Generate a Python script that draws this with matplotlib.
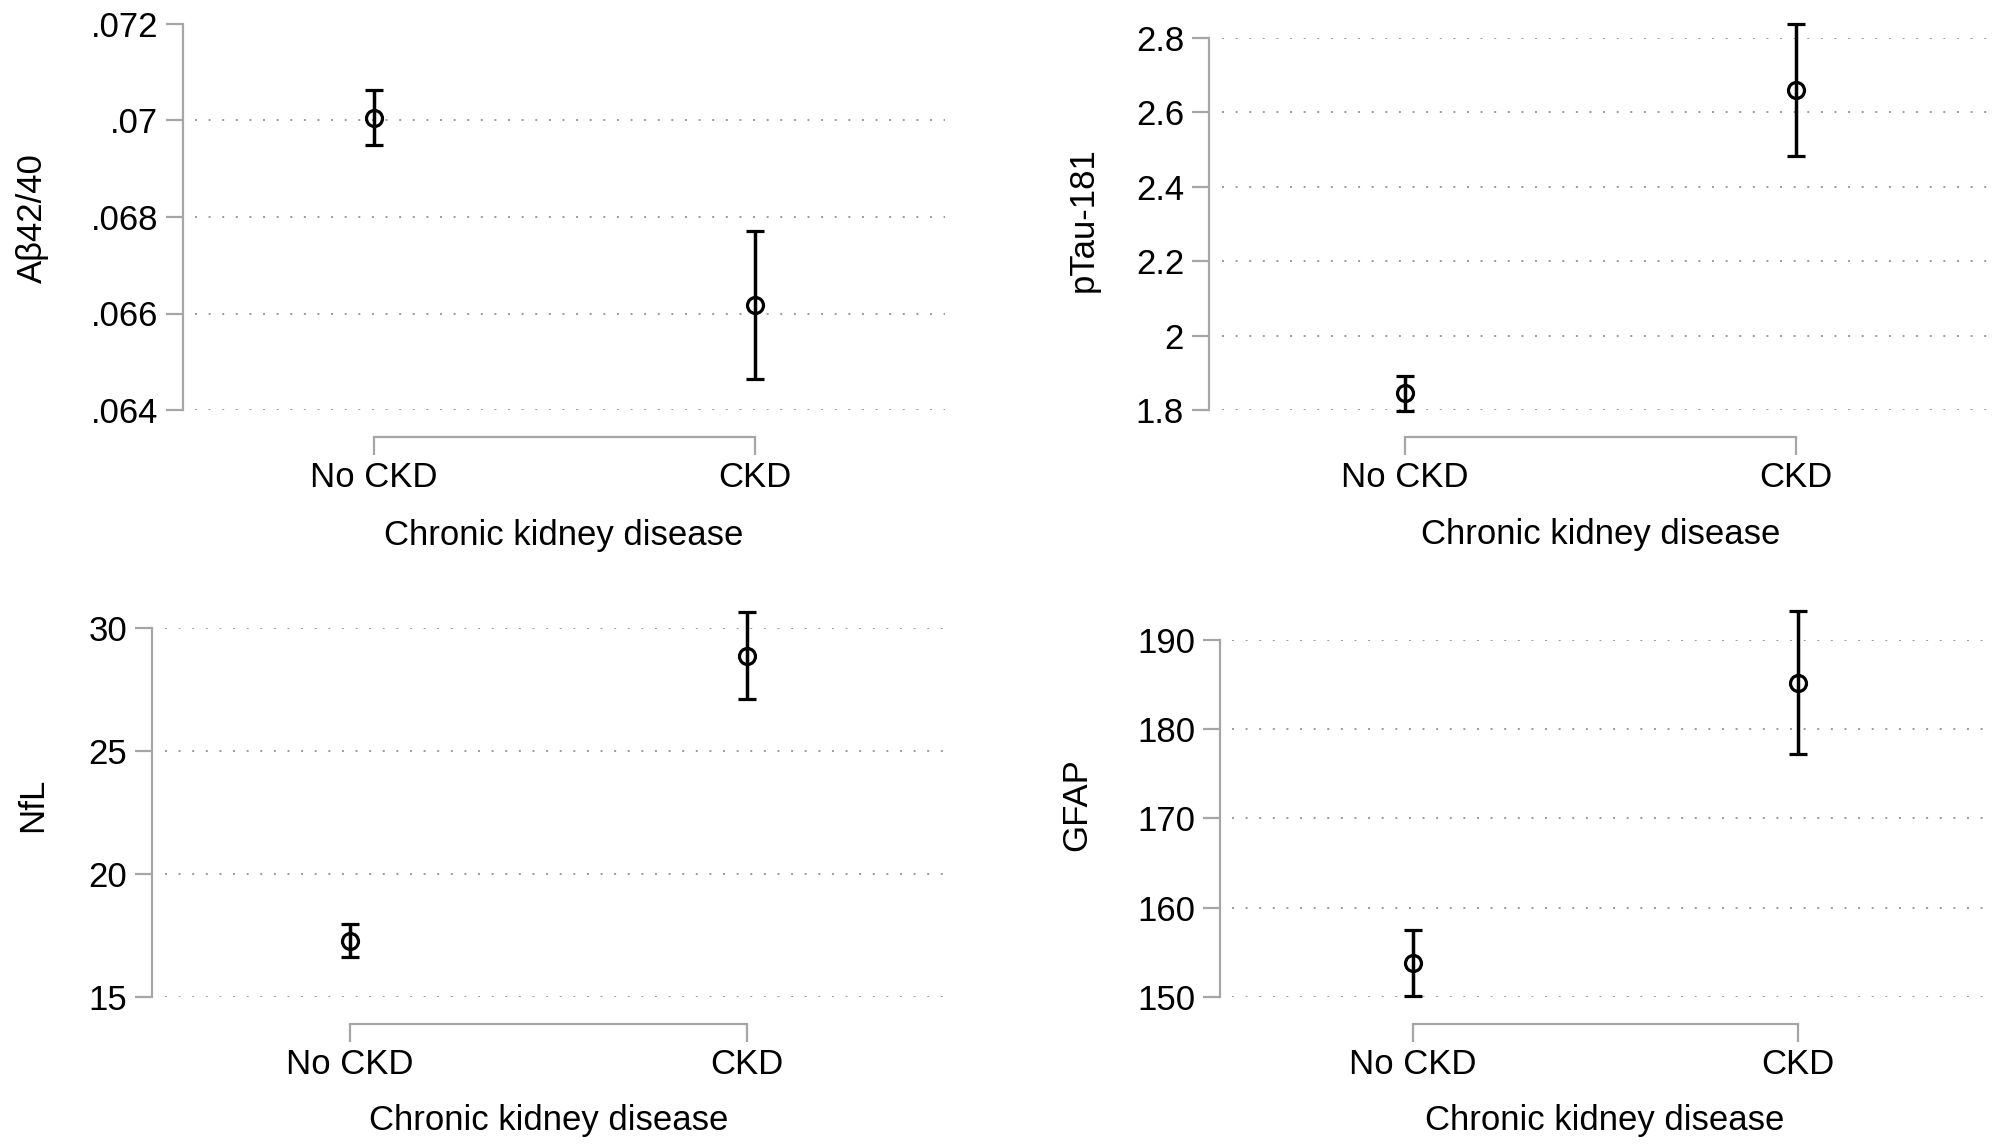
import matplotlib
matplotlib.use("Agg")
import matplotlib.pyplot as plt

plt.rcParams['font.family'] = ['Liberation Sans', 'DejaVu Sans']

groups = ['No CKD', 'CKD']
xlabel = 'Chronic kidney disease'

abeta_mean = [0.07006, 0.06618]
abeta_lo = [0.06950, 0.06464]
abeta_hi = [0.07064, 0.06770]
abeta_ticks = [0.064, 0.066, 0.068, 0.070, 0.072]
abeta_ticklabels = ['.064', '.066', '.068', '.07', '.072']
abeta_grid = [0.064, 0.066, 0.068, 0.070]

ptau_mean = [1.847, 2.660]
ptau_lo = [1.798, 2.483]
ptau_hi = [1.892, 2.837]
ptau_ticks = [1.8, 2.0, 2.2, 2.4, 2.6, 2.8]
ptau_ticklabels = ['1.8', '2', '2.2', '2.4', '2.6', '2.8']
ptau_grid = [1.8, 2.0, 2.2, 2.4, 2.6, 2.8]

nfl_mean = [17.28, 28.88]
nfl_lo = [16.64, 27.13]
nfl_hi = [17.95, 30.67]
nfl_ticks = [15, 20, 25, 30]
nfl_ticklabels = ['15', '20', '25', '30']
nfl_grid = [15, 20, 25, 30]

gfap_mean = [153.8, 185.2]
gfap_lo = [150.1, 177.2]
gfap_hi = [157.5, 193.2]
gfap_ticks = [150, 160, 170, 180, 190]
gfap_ticklabels = ['150', '160', '170', '180', '190']
gfap_grid = [150, 160, 170, 180, 190]

W, H = 2008, 1145
fig = plt.figure(figsize=(W / 100, H / 100), dpi=100)
fig.patch.set_facecolor('white')

GRAY = '#a6a6a6'
FS = 25

# (left, right, top, bottom) in pixels, ylabel (x,y) frac, xlabel y frac
panels = [
    dict(box=(183, 945, 24, 410), name='Aβ42/40', mean=abeta_mean, lo=abeta_lo, hi=abeta_hi,
         ticks=abeta_ticks, tl=abeta_ticklabels, grid=abeta_grid, yl=(-0.198, 0.497), xl=-0.324),
    dict(box=(1209, 1992, 38, 410), name='pTau-181', mean=ptau_mean, lo=ptau_lo, hi=ptau_hi,
         ticks=ptau_ticks, tl=ptau_ticklabels, grid=ptau_grid, yl=(-0.161, 0.513), xl=-0.336),
    dict(box=(152, 945, 628, 997), name='NfL', mean=nfl_mean, lo=nfl_lo, hi=nfl_hi,
         ticks=nfl_ticks, tl=nfl_ticklabels, grid=nfl_grid, yl=(-0.151, 0.52), xl=-0.336),
    dict(box=(1220, 1990, 640, 997), name='GFAP', mean=gfap_mean, lo=gfap_lo, hi=gfap_hi,
         ticks=gfap_ticks, tl=gfap_ticklabels, grid=gfap_grid, yl=(-0.186, 0.538), xl=-0.347),
]

for p in panels:
    l, r, t, b = p['box']
    ax = fig.add_axes([l / W, 1 - b / H, (r - l) / W, (b - t) / H])
    ax.set_facecolor('none')
    ax.set_xlim(-0.5, 1.5)
    ax.set_ylim(p['ticks'][0], p['ticks'][-1])

    for g in p['grid']:
        ax.axhline(g, xmin=0.016, xmax=1, color='#9a9a9a', lw=1.4,
                   linestyle=(0, (1, 6)), zorder=1)

    x = list(range(len(groups)))
    yerr = [[m - lo for m, lo in zip(p['mean'], p['lo'])],
            [hi - m for m, hi in zip(p['mean'], p['hi'])]]
    cont = ax.errorbar(x, p['mean'], yerr=yerr, fmt='o', mfc='none', mec='black',
                       ms=11.5, mew=2.3, ecolor='black', elinewidth=2.5,
                       capsize=6.5, capthick=2.5, zorder=3)
    for art in cont.get_children():
        art.set_clip_on(False)

    for s in ['top', 'right']:
        ax.spines[s].set_visible(False)
    ax.spines['left'].set_color(GRAY)
    ax.spines['left'].set_linewidth(1.6)
    ax.spines['bottom'].set_color(GRAY)
    ax.spines['bottom'].set_linewidth(1.6)
    ax.spines['bottom'].set_position(('outward', 19.5))
    ax.spines['bottom'].set_bounds(0, 1)

    ax.set_yticks(p['ticks'])
    ax.set_yticklabels(p['tl'])
    ax.set_xticks(x)
    ax.set_xticklabels(groups)
    ax.tick_params(axis='y', length=12, width=1.6, color=GRAY, pad=6,
                   labelsize=FS, labelcolor='black')
    ax.tick_params(axis='x', length=13, width=1.6, color=GRAY, pad=4,
                   labelsize=FS, labelcolor='black')

    ax.set_ylabel(p['name'], fontsize=FS, va='center')
    ax.yaxis.set_label_coords(p['yl'][0], p['yl'][1])
    ax.set_xlabel(xlabel, fontsize=FS, va='center')
    ax.xaxis.set_label_coords(0.5, p['xl'])

fig.savefig('out.png', dpi=100, facecolor='white')
